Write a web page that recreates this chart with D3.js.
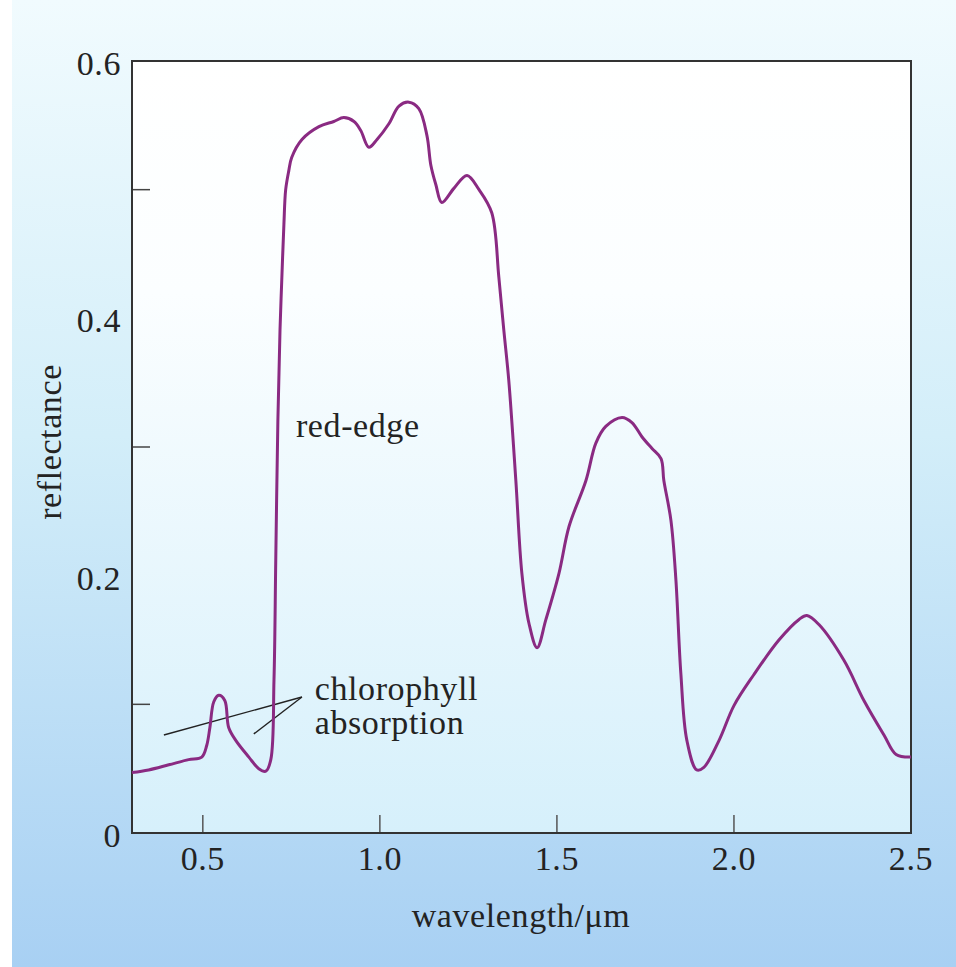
<!DOCTYPE html>
<html>
<head>
<meta charset="utf-8">
<script src="https://cdn.jsdelivr.net/npm/d3@7"></script>
<style>
  html, body { margin: 0; padding: 0; background: #fff; }
  svg { display: block; }
  text { font-family: "Liberation Serif", "Times New Roman", serif; fill: #232323; letter-spacing: 0.6px; }
</style>
</head>
<body>
<div id="chart"></div>
<script>
// leaf reflectance spectrum
var wavelength = [0.30, 0.347, 0.404, 0.460, 0.497, 0.511, 0.520, 0.531, 0.545, 0.562,
    0.573, 0.593, 0.630, 0.658, 0.678, 0.692, 0.701, 0.706, 0.712, 0.718,
    0.723, 0.729, 0.734, 0.743, 0.751, 0.780, 0.828, 0.870, 0.898, 0.927,
    0.946, 0.969, 0.992, 1.025, 1.054, 1.082, 1.110, 1.133, 1.144, 1.158,
    1.175, 1.209, 1.246, 1.280, 1.316, 1.336, 1.350, 1.364, 1.384, 1.401,
    1.421, 1.444, 1.469, 1.506, 1.534, 1.582, 1.610, 1.638, 1.684, 1.712,
    1.740, 1.768, 1.794, 1.802, 1.822, 1.836, 1.850, 1.867, 1.895, 1.915,
    1.958, 2.000, 2.056, 2.127, 2.184, 2.206, 2.240, 2.311, 2.367, 2.424,
    2.458, 2.50];
var reflectance = [0.047, 0.049, 0.053, 0.057, 0.059, 0.068, 0.082, 0.102, 0.107, 0.103,
    0.082, 0.072, 0.059, 0.050, 0.048, 0.057, 0.119, 0.212, 0.321, 0.391,
    0.430, 0.473, 0.500, 0.515, 0.525, 0.539, 0.549, 0.553, 0.556, 0.553,
    0.546, 0.533, 0.539, 0.551, 0.565, 0.568, 0.563, 0.542, 0.519, 0.504,
    0.490, 0.501, 0.511, 0.500, 0.482, 0.432, 0.391, 0.352, 0.274, 0.202,
    0.163, 0.144, 0.166, 0.202, 0.238, 0.274, 0.303, 0.316, 0.323, 0.319,
    0.308, 0.299, 0.291, 0.274, 0.243, 0.197, 0.124, 0.072, 0.049, 0.051,
    0.072, 0.099, 0.123, 0.150, 0.166, 0.169, 0.162, 0.134, 0.103, 0.076,
    0.061, 0.059];

var xLabelTicks = [0.5, 1.0, 1.5, 2.0, 2.5];
var xMarkTicks = [0.5, 1.0, 1.5, 2.0];
var yLabelTicks = [0, 0.2, 0.4, 0.6];
var yMarkTicks = [0.1, 0.3, 0.5];

// pointer lines: from two points on the curve to the label
var pointerFrom = [[0.39, 0.0762], [0.644, 0.077]];
var pointerTo = [0.78, 0.1057];

var width = 956, height = 967;
var margin = {left: 132, right: 45, top: 61, bottom: 134};
var innerW = width - margin.left - margin.right;
var innerH = height - margin.top - margin.bottom;

var x = d3.scaleLinear().domain([0.3, 2.5]).range([0, innerW]);
var y = d3.scaleLinear().domain([0, 0.6]).range([innerH, 0]);

var svg = d3.select('#chart').append('svg')
    .attr('width', width)
    .attr('height', height);

var defs = svg.append('defs');
var bgGrad = defs.append('linearGradient')
    .attr('id', 'bgGrad').attr('x1', 0).attr('y1', 0).attr('x2', 0).attr('y2', 1);
bgGrad.append('stop').attr('offset', '0%').attr('stop-color', '#f1fbfe');
bgGrad.append('stop').attr('offset', '45%').attr('stop-color', '#d3eef9');
bgGrad.append('stop').attr('offset', '100%').attr('stop-color', '#a8d0f3');

var panelGrad = defs.append('linearGradient')
    .attr('id', 'panelGrad').attr('x1', 0).attr('y1', 0).attr('x2', 0).attr('y2', 1);
panelGrad.append('stop').attr('offset', '0%').attr('stop-color', '#ffffff');
panelGrad.append('stop').attr('offset', '30%').attr('stop-color', '#fbfeff');
panelGrad.append('stop').attr('offset', '100%').attr('stop-color', '#d6f0fb');

svg.append('rect')
    .attr('x', 12).attr('y', 0)
    .attr('width', width - 12).attr('height', height)
    .attr('fill', 'url(#bgGrad)');

var root = svg.append('g')
    .attr('transform', 'translate(' + [margin.left, margin.top] + ')');

root.append('rect')
    .attr('width', innerW).attr('height', innerH)
    .attr('fill', 'url(#panelGrad)');

// inward tick marks
root.selectAll('line.xtick')
    .data(xMarkTicks)
    .enter().append('line')
    .attr('x1', function(d) { return x(d); })
    .attr('x2', function(d) { return x(d); })
    .attr('y1', innerH)
    .attr('y2', innerH - 18)
    .attr('stroke', '#555')
    .attr('stroke-width', 1.5);

root.selectAll('line.ytick')
    .data(yMarkTicks)
    .enter().append('line')
    .attr('x1', 0)
    .attr('x2', 18)
    .attr('y1', function(d) { return y(d); })
    .attr('y2', function(d) { return y(d); })
    .attr('stroke', '#444')
    .attr('stroke-width', 1.5);

// tick labels
root.selectAll('text.xlabel')
    .data(xLabelTicks)
    .enter().append('text')
    .attr('x', function(d) { return x(d); })
    .attr('y', innerH + 37)
    .attr('text-anchor', 'middle')
    .style('font-size', '34px')
    .text(function(d) { return d.toFixed(1); });

root.selectAll('text.ylabel')
    .data(yLabelTicks)
    .enter().append('text')
    .attr('x', -11)
    .attr('y', function(d) { return y(d) + 14; })
    .attr('text-anchor', 'end')
    .style('font-size', '34px')
    .text(function(d) { return d === 0 ? '0' : d.toFixed(1); });

// frame
root.append('rect')
    .attr('width', innerW).attr('height', innerH)
    .attr('fill', 'none')
    .attr('stroke', '#333')
    .attr('stroke-width', 2);

// pointer lines
pointerFrom.forEach(function(p) {
    root.append('line')
        .attr('x1', x(p[0])).attr('y1', y(p[1]))
        .attr('x2', x(pointerTo[0])).attr('y2', y(pointerTo[1]))
        .attr('stroke', '#222')
        .attr('stroke-width', 1.4);
});

// spectrum
var line = d3.line()
    .x(function(d, i) { return x(wavelength[i]); })
    .y(function(d) { return y(d); })
    .curve(d3.curveCatmullRom.alpha(0.5));

root.append('path')
    .datum(reflectance)
    .attr('d', line)
    .attr('fill', 'none')
    .attr('stroke', '#8a2a82')
    .attr('stroke-width', 3)
    .attr('stroke-linejoin', 'round');

// annotations
root.append('text')
    .attr('x', x(0.763)).attr('y', y(0.308))
    .style('font-size', '34px')
    .text('red-edge');

root.append('text')
    .attr('x', x(0.816)).attr('y', y(0.1034))
    .style('font-size', '34px')
    .text('chlorophyll');

root.append('text')
    .attr('x', x(0.816)).attr('y', y(0.077))
    .style('font-size', '34px')
    .text('absorption');

// axis titles
svg.append('text')
    .attr('x', 521).attr('y', 927)
    .attr('text-anchor', 'middle')
    .style('font-size', '34px')
    .text('wavelength/μm');

svg.append('text')
    .attr('transform', 'translate(61,442) rotate(-90)')
    .attr('text-anchor', 'middle')
    .style('font-size', '34px')
    .text('reflectance');
</script>
</body>
</html>
